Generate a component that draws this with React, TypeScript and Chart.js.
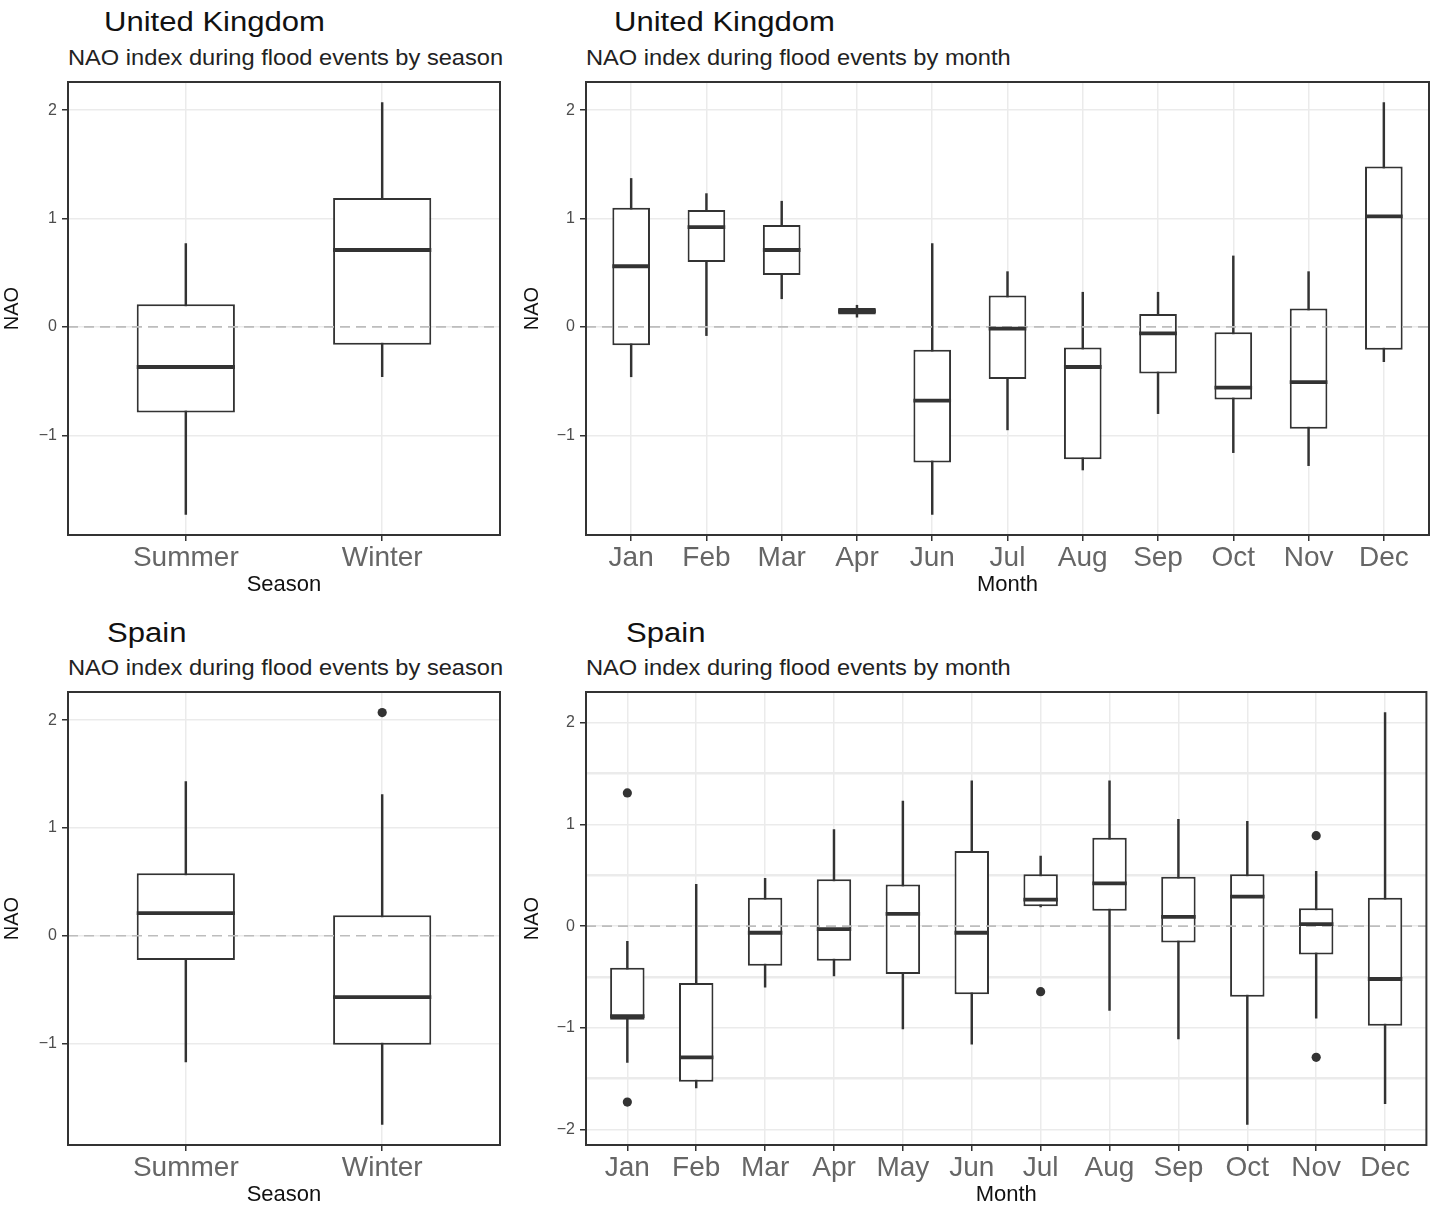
import React, { useEffect, useRef } from 'react';
import { Chart, registerables } from 'chart.js';

Chart.register(...registerables);

const FONT = "'Liberation Sans', Arial, Helvetica, sans-serif";

// ---------- UK by season ----------
const SEASONS = ['Summer', 'Winter'];
const UK_SEASON_LO = [-1.73, -0.46];
const UK_SEASON_Q1 = [-0.79, -0.165];
const UK_SEASON_MED = [-0.37, 0.71];
const UK_SEASON_Q3 = [0.21, 1.19];
const UK_SEASON_HI = [0.77, 2.07];
const UK_SEASON_OUT_CAT: string[] = [];
const UK_SEASON_OUT_VAL: number[] = [];

// ---------- UK by month ----------
const UK_MONTHS = ['Jan', 'Feb', 'Mar', 'Apr', 'Jun', 'Jul', 'Aug', 'Sep', 'Oct', 'Nov', 'Dec'];
const UK_MONTH_LO = [-0.46, -0.08, 0.26, 0.09, -1.73, -0.95, -1.32, -0.8, -1.16, -1.28, -0.32];
const UK_MONTH_Q1 = [-0.17, 0.6, 0.48, 0.115, -1.25, -0.48, -1.22, -0.43, -0.67, -0.94, -0.21];
const UK_MONTH_MED = [0.56, 0.92, 0.71, 0.145, -0.68, -0.015, -0.37, -0.06, -0.56, -0.51, 1.02];
const UK_MONTH_Q3 = [1.1, 1.08, 0.94, 0.175, -0.21, 0.29, -0.19, 0.12, -0.05, 0.17, 1.48];
const UK_MONTH_HI = [1.37, 1.23, 1.16, 0.2, 0.77, 0.51, 0.32, 0.32, 0.655, 0.51, 2.07];
const UK_MONTH_OUT_CAT: string[] = [];
const UK_MONTH_OUT_VAL: number[] = [];

// ---------- Spain by season ----------
const ES_SEASON_LO = [-1.17, -1.75];
const ES_SEASON_Q1 = [-0.225, -1.01];
const ES_SEASON_MED = [0.21, -0.57];
const ES_SEASON_Q3 = [0.58, 0.19];
const ES_SEASON_HI = [1.43, 1.31];
const ES_SEASON_OUT_CAT = ['Winter'];
const ES_SEASON_OUT_VAL = [2.07];

// ---------- Spain by month ----------
const ES_MONTHS = ['Jan', 'Feb', 'Mar', 'Apr', 'May', 'Jun', 'Jul', 'Aug', 'Sep', 'Oct', 'Nov', 'Dec'];
const ES_MONTH_LO = [-1.34, -1.59, -0.6, -0.49, -1.01, -1.16, 0.19, -0.83, -1.11, -1.95, -0.905, -1.745];
const ES_MONTH_Q1 = [-0.92, -1.53, -0.39, -0.34, -0.47, -0.67, 0.195, 0.15, -0.16, -0.695, -0.28, -0.98];
const ES_MONTH_MED = [-0.885, -1.29, -0.065, -0.03, 0.12, -0.065, 0.26, 0.42, 0.09, 0.29, 0.02, -0.52];
const ES_MONTH_Q3 = [-0.41, -0.56, 0.28, 0.46, 0.41, 0.74, 0.51, 0.87, 0.485, 0.51, 0.175, 0.28];
const ES_MONTH_HI = [-0.15, 0.41, 0.47, 0.95, 1.23, 1.43, 0.69, 1.43, 1.05, 1.03, 0.54, 2.1];
const ES_MONTH_OUT_CAT = ['Jan', 'Jan', 'Jul', 'Nov', 'Nov'];
const ES_MONTH_OUT_VAL = [1.31, -1.73, -0.645, 0.89, -1.29];

type PanelSpec = {
  cats: string[];
  lo: number[];
  q1: number[];
  med: number[];
  q3: number[];
  hi: number[];
  outCat: string[];
  outVal: number[];
  xTitle: string;
  minorGrid: boolean;
  left: number;
  top: number;
  width: number;
  height: number;
  yWidth: number;
  padRight: number;
};

const INK = '#333333';
const GRID = '#ebebeb';

function fmt(v: number): string {
  return v < 0 ? '\u2212' + Math.abs(v) : String(v);
}

function zeroPad(s: any) {
  s.paddingTop = 0;
  s.paddingBottom = 0;
  s.paddingLeft = 0;
  s.paddingRight = 0;
}

function BoxPanel({ spec }: { spec: PanelSpec }) {
  const ref = useRef<HTMLCanvasElement | null>(null);
  useEffect(() => {
    if (!ref.current) return;
    const p = spec;
    const n = p.cats.length;
    const xs = p.cats.map((_, i) => i + 1);
    const all = [...p.lo, ...p.hi, ...p.outVal, 0];
    const dmin = Math.min(...all);
    const dmax = Math.max(...all);
    const pad = (dmax - dmin) * 0.05;
    const yMin = dmin - pad;
    const yMax = dmax + pad;
    const step = p.minorGrid ? 0.5 : 1;
    const yTicks: number[] = [];
    for (let v = Math.ceil(yMin / step) * step; v <= yMax + 1e-9; v += step) {
      yTicks.push(Math.round(v * 2) / 2);
    }

    const extras = {
      id: 'boxExtras',
      afterDatasetsDraw(chart: any) {
        const ctx = chart.ctx;
        const y = chart.scales.y;
        const { left, right } = chart.chartArea;
        ctx.save();
        // zero reference line
        const z = y.getPixelForValue(0);
        ctx.setLineDash([10, 6]);
        ctx.strokeStyle = '#bdbdbd';
        ctx.lineWidth = 1.6;
        ctx.beginPath();
        ctx.moveTo(left, z);
        ctx.lineTo(right, z);
        ctx.stroke();
        ctx.setLineDash([]);
        // medians
        const meta = chart.getDatasetMeta(0);
        ctx.strokeStyle = INK;
        ctx.lineWidth = 3.8;
        meta.data.forEach((el: any, i: number) => {
          const { x, width } = el.getProps(['x', 'width'], true);
          const py = y.getPixelForValue(p.med[i]);
          ctx.beginPath();
          ctx.moveTo(x - width / 2, py);
          ctx.lineTo(x + width / 2, py);
          ctx.stroke();
        });
        ctx.restore();
      },
      afterDraw(chart: any) {
        const ctx = chart.ctx;
        const { left, right, top, bottom } = chart.chartArea;
        ctx.save();
        ctx.strokeStyle = INK;
        ctx.lineWidth = 2;
        ctx.strokeRect(left, top, right - left, bottom - top);
        ctx.restore();
      },
    };

    const chart = new Chart(ref.current, {
      type: 'bar',
      data: {
        datasets: [
          {
            type: 'bar',
            label: 'box',
            data: xs.map((x, i) => ({ x, y: [p.q1[i], p.q3[i]] })),
            backgroundColor: '#ffffff',
            borderColor: INK,
            borderWidth: 2,
            borderSkipped: false,
            grouped: false,
            barPercentage: 0.5,
            categoryPercentage: 1,
            order: 1,
          } as any,
          {
            type: 'bar',
            label: 'whisker',
            data: xs.map((x, i) => ({ x, y: [p.lo[i], p.hi[i]] })),
            backgroundColor: INK,
            borderWidth: 0,
            grouped: false,
            barThickness: 1.8,
            order: 2,
          } as any,
          {
            type: 'scatter',
            label: 'outlier',
            data: p.outCat.map((c, k) => ({ x: p.cats.indexOf(c) + 1, y: p.outVal[k] })),
            pointRadius: 4.6,
            pointHoverRadius: 4.6,
            backgroundColor: INK,
            borderWidth: 0,
            order: 0,
          } as any,
        ],
      },
      options: {
        responsive: false,
        animation: false,
        devicePixelRatio: 1,
        events: [],
        layout: { padding: { left: 0, top: 10, right: p.padRight, bottom: 0 } },
        plugins: { legend: { display: false }, tooltip: { enabled: false }, title: { display: false } },
        scales: {
          x: {
            type: 'linear',
            min: 0.4,
            max: n + 0.6,
            bounds: 'data',
            offset: false,
            afterBuildTicks: (s: any) => {
              s.ticks = xs.map((v) => ({ value: v }));
            },
            afterFit: (s: any) => {
              s.height = 63;
              zeroPad(s);
            },
            ticks: {
              autoSkip: false,
              maxRotation: 0,
              minRotation: 0,
              padding: 0,
              color: '#666666',
              font: { family: FONT, size: 28 },
              callback: (v: any) => p.cats[Math.round(Number(v)) - 1] ?? '',
            },
            grid: {
              offset: false,
              color: GRID,
              lineWidth: 1.5,
              tickLength: 6,
              tickColor: INK,
              tickWidth: 1.5,
            },
            border: { display: false },
            title: {
              display: true,
              text: p.xTitle,
              color: '#111111',
              font: { family: FONT, size: 22 },
              padding: 0,
            },
          },
          y: {
            type: 'linear',
            min: yMin,
            max: yMax,
            bounds: 'data',
            afterBuildTicks: (s: any) => {
              s.ticks = yTicks.map((v) => ({ value: v }));
            },
            afterFit: (s: any) => {
              s.width = p.yWidth;
              zeroPad(s);
            },
            ticks: {
              autoSkip: false,
              padding: 5,
              color: '#4d4d4d',
              font: { family: FONT, size: 16 },
              callback: (v: any) => (Number.isInteger(Number(v)) ? fmt(Number(v)) : ''),
            },
            grid: {
              offset: false,
              color: GRID,
              lineWidth: (c: any) => (c.tick && !Number.isInteger(c.tick.value) ? 2.5 : 1.5),
              tickLength: 6,
              tickColor: (c: any) => (c.tick && Number.isInteger(c.tick.value) ? INK : 'rgba(0,0,0,0)'),
              tickWidth: 1.5,
            },
            border: { display: false },
            title: {
              display: true,
              text: 'NAO',
              color: '#111111',
              font: { family: FONT, size: 20 },
              padding: 0,
            },
          },
        },
      } as any,
      plugins: [extras],
    });
    return () => chart.destroy();
  }, [spec]);

  return (
    <canvas
      ref={ref}
      width={spec.width}
      height={spec.height}
      style={{ position: 'absolute', left: spec.left, top: spec.top, width: spec.width, height: spec.height }}
    />
  );
}

function Label({ text, left, top, size, scale, color }: { text: string; left: number; top: number; size: number; scale: number; color: string }) {
  return (
    <div
      style={{
        position: 'absolute',
        left,
        top,
        fontFamily: FONT,
        fontSize: size,
        lineHeight: `${size}px`,
        color,
        whiteSpace: 'nowrap',
        transformOrigin: 'left top',
        transform: `scaleX(${scale})`,
      }}
    >
      {text}
    </div>
  );
}

const PANELS: PanelSpec[] = [
  {
    cats: SEASONS, lo: UK_SEASON_LO, q1: UK_SEASON_Q1, med: UK_SEASON_MED, q3: UK_SEASON_Q3, hi: UK_SEASON_HI,
    outCat: UK_SEASON_OUT_CAT, outVal: UK_SEASON_OUT_VAL, xTitle: 'Season', minorGrid: false,
    left: 0, top: 72, width: 510, height: 526, yWidth: 68, padRight: 10,
  },
  {
    cats: UK_MONTHS, lo: UK_MONTH_LO, q1: UK_MONTH_Q1, med: UK_MONTH_MED, q3: UK_MONTH_Q3, hi: UK_MONTH_HI,
    outCat: UK_MONTH_OUT_CAT, outVal: UK_MONTH_OUT_VAL, xTitle: 'Month', minorGrid: false,
    left: 520, top: 72, width: 911, height: 526, yWidth: 66, padRight: 2,
  },
  {
    cats: SEASONS, lo: ES_SEASON_LO, q1: ES_SEASON_Q1, med: ES_SEASON_MED, q3: ES_SEASON_Q3, hi: ES_SEASON_HI,
    outCat: ES_SEASON_OUT_CAT, outVal: ES_SEASON_OUT_VAL, xTitle: 'Season', minorGrid: false,
    left: 0, top: 682, width: 510, height: 526, yWidth: 68, padRight: 10,
  },
  {
    cats: ES_MONTHS, lo: ES_MONTH_LO, q1: ES_MONTH_Q1, med: ES_MONTH_MED, q3: ES_MONTH_Q3, hi: ES_MONTH_HI,
    outCat: ES_MONTH_OUT_CAT, outVal: ES_MONTH_OUT_VAL, xTitle: 'Month', minorGrid: true,
    left: 520, top: 682, width: 911, height: 526, yWidth: 66, padRight: 2,
  },
];

export default function App() {
  return (
    <div style={{ position: 'absolute', left: 0, top: 0, width: 1431, height: 1223, background: '#ffffff', overflow: 'hidden' }}>
      <Label text="United Kingdom" left={104} top={9} size={27} scale={1.15} color="#111111" />
      <Label text="NAO index during flood events by season" left={68} top={48} size={21.5} scale={1.1} color="#222222" />
      <Label text="United Kingdom" left={614} top={9} size={27} scale={1.15} color="#111111" />
      <Label text="NAO index during flood events by month" left={586} top={48} size={21.5} scale={1.1} color="#222222" />
      <Label text="Spain" left={107} top={620} size={27} scale={1.15} color="#111111" />
      <Label text="NAO index during flood events by season" left={68} top={658} size={21.5} scale={1.1} color="#222222" />
      <Label text="Spain" left={626} top={620} size={27} scale={1.15} color="#111111" />
      <Label text="NAO index during flood events by month" left={586} top={658} size={21.5} scale={1.1} color="#222222" />
      {PANELS.map((s, i) => (
        <BoxPanel key={i} spec={s} />
      ))}
    </div>
  );
}
